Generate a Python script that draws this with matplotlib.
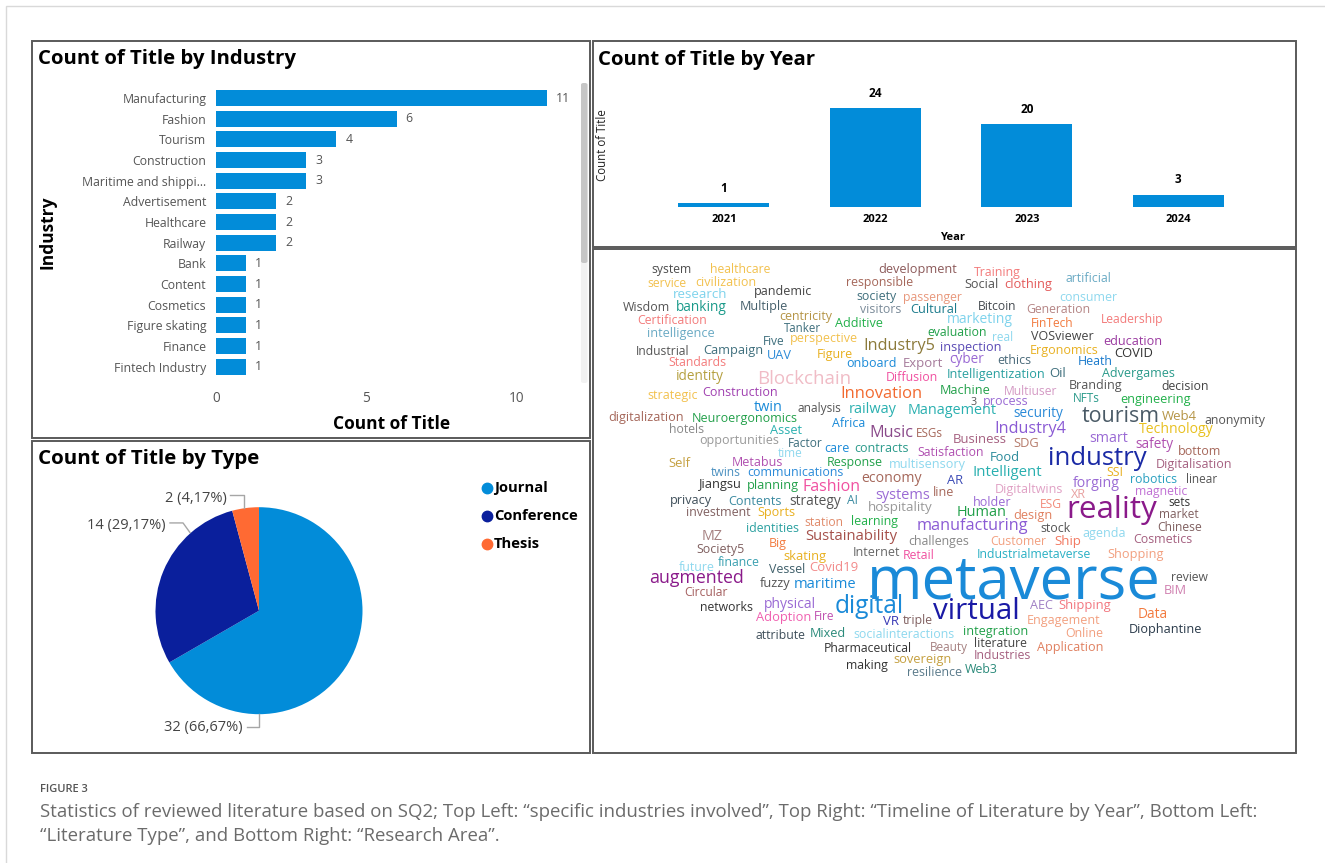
import numpy as np
import matplotlib
matplotlib.use("Agg")
import matplotlib.pyplot as plt
from matplotlib.patches import Rectangle, FancyBboxPatch
from matplotlib.lines import Line2D

plt.rcParams['font.family'] = ['Open Sans', 'DejaVu Sans']

W, H = 1325, 863
BLUE = '#028cd9'

# ---------------------------------------------------------
# data
# ---------------------------------------------------------
industries = ["Manufacturing", "Fashion", "Tourism", "Construction",
              "Maritime and shippi...", "Advertisement", "Healthcare", "Railway",
              "Bank", "Content", "Cosmetics", "Figure skating", "Finance",
              "Fintech Industry"]
industry_counts = [11, 6, 4, 3, 3, 2, 2, 2, 1, 1, 1, 1, 1, 1]

years = ["2021", "2022", "2023", "2024"]
year_counts = [1, 24, 20, 3]

types = ["Journal", "Conference", "Thesis"]
type_counts = [32, 14, 2]
type_colors = ['#028cd9', '#0a1f9c', '#ff6a33']

cloud_words = [
    "system", "healthcare", "development", "Training", "service", "civilization",
    "responsible", "Social", "clothing", "artificial", "research", "pandemic",
    "society", "passenger", "consumer", "Wisdom", "banking", "Multiple", "visitors",
    "Cultural", "Bitcoin", "Generation", "centricity", "Certification", "Additive",
    "marketing", "FinTech", "Leadership", "Tanker", "intelligence", "evaluation",
    "real", "VOSviewer", "education", "Five", "perspective", "Industry5",
    "inspection", "Ergonomics", "Industrial", "Campaign", "UAV", "Figure", "COVID",
    "cyber", "ethics", "Heath", "onboard", "Export", "Standards", "identity",
    "Blockchain", "Diffusion", "Intelligentization", "Oil", "Advergames",
    "Branding", "decision", "Machine", "Multiuser", "strategic", "Construction",
    "Innovation", "3", "process", "NFTs", "engineering", "twin", "analysis",
    "railway", "Management", "security", "tourism", "Web4", "anonymity",
    "digitalization", "Neuroergonomics", "Africa", "Music", "ESGs", "Industry4",
    "Technology", "hotels", "Asset", "opportunities", "Factor", "Business", "SDG",
    "smart", "safety", "time", "care", "contracts", "Satisfaction", "bottom",
    "industry", "Food", "Self", "Metabus", "Response", "multisensory",
    "Digitalisation", "twins", "communications", "Intelligent", "SSI", "economy",
    "Jiangsu", "planning", "AR", "robotics", "linear", "forging", "Fashion", "line",
    "Digitaltwins", "magnetic", "systems", "XR", "privacy", "Contents", "strategy",
    "AI", "holder", "ESG", "sets", "hospitality", "reality", "investment", "Sports",
    "Human", "design", "market", "station", "learning", "manufacturing",
    "identities", "stock", "Chinese", "agenda", "MZ", "Sustainability", "Cosmetics",
    "challenges", "Customer", "Ship", "Big", "Society5", "Internet",
    "Industrialmetaverse", "Shopping", "skating", "Retail", "finance", "future",
    "Vessel", "Covid19", "metaverse", "augmented", "review", "fuzzy", "maritime",
    "Circular", "BIM", "physical", "networks", "digital", "virtual", "AEC",
    "Shipping", "Data", "Adoption", "Fire", "VR", "triple", "Engagement",
    "Diophantine", "integration", "Online", "attribute", "Mixed",
    "socialinteractions", "literature", "Pharmaceutical", "Beauty", "Application",
    "Industries", "sovereign", "making", "resilience", "Web3",
]

# word cloud placement: left px, right px, centre y px, colour
cloud_layout = [
    (651, 691, 269, "#4d4d4d"), (710, 771, 269, "#f2c14e"), (878, 956, 269, "#8c5a5a"),
    (974, 1021, 272, "#f37b7b"), (647, 686, 283, "#f2c14e"), (695, 756, 282, "#f2c14e"),
    (846, 913, 282, "#a5675a"), (964, 998, 284, "#555555"), (1004, 1052, 284, "#e35a5a"),
    (1066, 1112, 278, "#6aaac4"), (673, 727, 294, "#7fd3ec"), (754, 812, 291, "#444444"),
    (856, 896, 296, "#3f6f7d"), (903, 962, 297, "#e8987c"), (1059, 1117, 297, "#8ed8ee"),
    (623, 670, 307, "#555555"), (676, 727, 307, "#1a9a8a"), (740, 788, 306, "#46606c"),
    (860, 901, 309, "#7b8b99"), (910, 957, 309, "#1b7b8c"), (978, 1017, 306, "#444a50"),
    (1026, 1090, 309, "#b58585"), (779, 832, 316, "#b59445"), (637, 707, 320, "#f37b7b"),
    (835, 883, 323, "#22b04a"), (947, 1013, 319, "#7fd3ec"), (1031, 1074, 323, "#f27a3e"),
    (1101, 1164, 319, "#f37b7b"), (784, 821, 328, "#3f6f7d"), (647, 714, 333, "#6aaac4"),
    (927, 987, 332, "#22a04a"), (992, 1013, 337, "#8ed8ee"), (1031, 1093, 336, "#444444"),
    (1103, 1162, 341, "#9a3aa0"), (763, 785, 341, "#3f6f7d"), (790, 857, 338, "#f2c14e"),
    (863, 935, 345, "#8c7a3a"), (940, 1001, 347, "#5a4ab5"), (1030, 1098, 350, "#e8b020"),
    (636, 690, 351, "#555555"), (703, 763, 350, "#3f6f7d"), (767, 792, 355, "#2a8ad8"),
    (817, 853, 354, "#e8b020"), (1114, 1153, 353, "#333333"), (949, 984, 359, "#9a6ad4"),
    (997, 1031, 360, "#4a6a7a"), (1078, 1113, 361, "#1a7acc"), (846, 896, 363, "#1a8ad8"),
    (903, 943, 363, "#a57a9a"), (668, 726, 362, "#f37b7b"), (676, 724, 376, "#b5a040"),
    (757, 851, 378, "#f0bcc6"), (886, 938, 377, "#f050a0"), (947, 1045, 374, "#2aa0a0"),
    (1049, 1066, 373, "#3f6f7d"), (1102, 1174, 373, "#2a9a8a"), (1069, 1122, 385, "#555555"),
    (1161, 1208, 386, "#444444"), (940, 990, 390, "#22a04a"), (1004, 1058, 391, "#d49ac4"),
    (647, 697, 395, "#f2c14e"), (702, 777, 392, "#a040b0"), (840, 922, 393, "#f26a30"),
    (970, 976, 402, "#555555"), (983, 1028, 401, "#9a6ad4"), (1073, 1100, 398, "#2a9a8a"),
    (1120, 1190, 399, "#22b04a"), (754, 783, 407, "#1a8ad8"), (797, 841, 408, "#555555"),
    (849, 897, 409, "#2ab0b0"), (908, 997, 410, "#2ab0b0"), (1013, 1063, 413, "#2a8ad8"),
    (1082, 1160, 415, "#4a5a66"), (1162, 1197, 416, "#b59445"), (1204, 1265, 420, "#555555"),
    (608, 683, 417, "#a5675a"), (692, 797, 418, "#22a04a"), (832, 865, 423, "#1a8ad8"),
    (869, 913, 432, "#8a4a8a"), (916, 943, 433, "#a5675a"), (994, 1066, 428, "#8a5ad4"),
    (1139, 1213, 429, "#e8c020"), (669, 704, 429, "#888888"), (770, 802, 430, "#2ab0b0"),
    (699, 778, 440, "#999999"), (788, 823, 443, "#3f6f7d"), (953, 1007, 439, "#a56080"),
    (1013, 1039, 443, "#b57a6a"), (1089, 1128, 438, "#9a6ad4"), (1135, 1173, 444, "#b050b0"),
    (778, 803, 453, "#8ed8ee"), (824, 849, 448, "#1a8ad8"), (854, 908, 448, "#2a9a8a"),
    (917, 983, 452, "#b050b0"), (1178, 1221, 451, "#a5675a"), (1048, 1147, 457, "#1a2aa5"),
    (990, 1020, 457, "#2a8a9a"), (668, 690, 463, "#c5a040"), (732, 783, 462, "#b050b0"),
    (827, 883, 462, "#22a04a"), (889, 965, 464, "#8ed8ee"), (1156, 1232, 464, "#a56080"),
    (711, 741, 472, "#4a90c0"), (747, 843, 472, "#2a8ad8"), (973, 1043, 471, "#2ab0b0"),
    (1106, 1123, 472, "#e8b020"), (861, 921, 478, "#a5675a"), (699, 742, 484, "#333333"),
    (747, 799, 485, "#22a04a"), (947, 963, 480, "#3a4ab5"), (1130, 1177, 479, "#2aa0c0"),
    (1186, 1217, 479, "#555555"), (1073, 1120, 483, "#9a6ad4"), (803, 861, 486, "#f050a0"),
    (933, 954, 492, "#a5675a"), (995, 1063, 489, "#e0a0c4"), (1135, 1188, 491, "#c070d4"),
    (875, 930, 494, "#9a6ad4"), (1071, 1086, 494, "#e8a0a0"), (670, 712, 500, "#3f4f5a"),
    (728, 781, 501, "#3a8aa0"), (789, 841, 501, "#555555"), (847, 858, 500, "#3a8aa0"),
    (973, 1011, 502, "#9a6ad4"), (1040, 1062, 504, "#f28a7a"), (1168, 1190, 502, "#333333"),
    (868, 933, 507, "#999999"), (1066, 1157, 508, "#8a1a8a"), (686, 751, 512, "#806060"),
    (757, 795, 512, "#e8b020"), (957, 1007, 512, "#22a04a"), (1013, 1052, 515, "#e08060"),
    (1159, 1198, 514, "#806060"), (804, 843, 522, "#e08a6a"), (851, 898, 521, "#22b04a"),
    (917, 1029, 525, "#8a5ad4"), (746, 799, 528, "#2aa0a0"), (1040, 1070, 528, "#555555"),
    (1157, 1202, 527, "#806060"), (1082, 1125, 533, "#8ed8ee"), (702, 723, 536, "#a58080"),
    (805, 898, 535, "#a5504a"), (1133, 1192, 539, "#a56080"), (908, 969, 541, "#888888"),
    (990, 1046, 541, "#f2a080"), (1054, 1081, 541, "#f27860"), (769, 787, 543, "#f27a3e"),
    (696, 744, 549, "#806060"), (853, 900, 552, "#666666"), (977, 1091, 554, "#2ab0c4"),
    (1107, 1163, 554, "#f2a080"), (783, 826, 556, "#e8b020"), (903, 935, 555, "#f050a0"),
    (718, 760, 562, "#3aa0b0"), (679, 715, 567, "#8ed8ee"), (769, 805, 569, "#3f5f6a"),
    (809, 858, 567, "#f28a8a"), (867, 1160, 580, "#1a8ad8"), (649, 744, 578, "#8a1a8a"),
    (1171, 1208, 577, "#555555"), (760, 791, 583, "#555555"), (794, 857, 583, "#1a8ad8"),
    (684, 728, 592, "#a56060"), (1164, 1187, 590, "#d080b0"), (764, 816, 604, "#9a6ad4"),
    (700, 753, 607, "#333333"), (835, 905, 605, "#1a8ad8"), (933, 1020, 610, "#1a1aa5"),
    (1030, 1053, 605, "#a080c4"), (1058, 1111, 605, "#f27880"), (1138, 1168, 614, "#f27a3e"),
    (756, 811, 617, "#f060b0"), (814, 835, 616, "#c050b0"), (883, 899, 621, "#3a3ab5"),
    (903, 933, 620, "#806060"), (1027, 1100, 620, "#f2a080"), (1129, 1202, 629, "#2a3a4a"),
    (963, 1028, 631, "#22a04a"), (1065, 1103, 633, "#f2a080"), (756, 806, 635, "#3f4f5a"),
    (810, 846, 633, "#2a8a7a"), (853, 954, 634, "#8ed8ee"), (974, 1027, 643, "#444444"),
    (824, 913, 648, "#333333"), (930, 968, 647, "#a58080"), (1037, 1103, 647, "#e08060"),
    (974, 1031, 655, "#a56080"), (893, 951, 659, "#c5a040"), (846, 888, 665, "#333333"),
    (907, 962, 672, "#5a7a8a"), (965, 998, 669, "#2a8a7a"),
]

caption_head = "FIGURE 3"
caption_lines = [
    "Statistics of reviewed literature based on SQ2; Top Left: \u201cspecific industries involved\u201d, "
    "Top Right: \u201cTimeline of Literature by Year\u201d, Bottom Left:",
    "\u201cLiterature Type\u201d, and Bottom Right: \u201cResearch Area\u201d.",
]

# ---------------------------------------------------------
# helpers (pixel coords, origin top-left)
# ---------------------------------------------------------
fig = plt.figure(figsize=(W / 100, H / 100), dpi=100, facecolor='white')
renderer = fig.canvas.get_renderer()


def fx(x):
    return x / W


def fy(y):
    return 1 - y / H


def px_axes(x0, y0, x1, y1):
    return fig.add_axes([fx(x0), fy(y1), (x1 - x0) / W, (y1 - y0) / H])


def fit_text(s, x0, x1, yc, color='black', weight='normal', rise=0.33):
    t = fig.text(fx(x0), fy(yc), s, fontsize=10, color=color,
                 fontweight=weight, ha='left', va='baseline')
    w = t.get_window_extent(renderer).width
    size = 10 * (x1 - x0) / w
    t.set_fontsize(size)
    t.set_y(fy(yc + rise * size * 100 / 72))
    return t


def frame(x0, y0, x1, y1, color='#5a5a5a', lw=1.4):
    fig.add_artist(Rectangle((fx(x0), fy(y1)), (x1 - x0) / W, (y1 - y0) / H,
                             transform=fig.transFigure, fill=False,
                             edgecolor=color, linewidth=lw))


# outer card and panel borders
frame(6, 6, 1340, 880, color='#d9d9d9', lw=1.0)
frame(32, 41, 590, 438)
frame(32, 441, 590, 753)
frame(593, 41, 1296, 247)
frame(593, 249, 1296, 753)

# ---------------------------------------------------------
# top left: count by industry
# ---------------------------------------------------------
fit_text("Count of Title by Industry", 38, 297, 57, weight='bold', rise=0.36)
ax1 = px_axes(216, 87.7, 577, 377)
ypos = np.arange(len(industries))
bars = ax1.barh(ypos, industry_counts, height=0.78, color=BLUE)
ax1.set_ylim(len(industries) - 0.5, -0.5)
ax1.set_xlim(0, 12)
ax1.set_xticks([0, 5, 10])
ax1.set_yticks(ypos, industries)
ax1.tick_params(axis='x', length=0, pad=10, labelsize=9.8, labelcolor='#555555')
ax1.tick_params(axis='y', length=0, pad=7, labelsize=8.8, labelcolor='#555555')
for sp in ax1.spines.values():
    sp.set_visible(False)
ax1.patch.set_alpha(0)
for rect, v in zip(bars, industry_counts):
    ax1.annotate(str(v), xy=(v, rect.get_y() + rect.get_height() / 2),
                 xytext=(6.5, 0), textcoords='offset points',
                 ha='left', va='center', fontsize=8.8, color='#555555')
fig.text(fx(392), fy(424), "Count of Title", fontsize=12.5, fontweight='bold',
         ha='center', va='center')
fig.text(fx(47), fy(232), "Industry", fontsize=12.5, fontweight='bold',
         ha='center', va='center', rotation=90)

# scrollbar
fig.add_artist(FancyBboxPatch((fx(581), fy(383)), 6.5 / W, 300 / H,
                              boxstyle="round,pad=0,rounding_size=0.002",
                              transform=fig.transFigure, facecolor='#f2f2f2',
                              edgecolor='none'))
fig.add_artist(FancyBboxPatch((fx(581), fy(263)), 6.5 / W, 180 / H,
                              boxstyle="round,pad=0,rounding_size=0.002",
                              transform=fig.transFigure, facecolor='#c6c6c6',
                              edgecolor='none'))

# ---------------------------------------------------------
# top right: count by year
# ---------------------------------------------------------
fit_text("Count of Title by Year", 598, 816, 58, weight='bold', rise=0.36)
ax2 = px_axes(633, 91.5, 1269, 207)
xpos = np.arange(len(years))
bars2 = ax2.bar(xpos, year_counts, width=0.6, color=BLUE)
ax2.set_xlim(-0.6, 3.6)
ax2.set_ylim(0, 28)
ax2.set_xticks(xpos, years)
ax2.set_yticks([])
ax2.tick_params(axis='x', length=0, pad=5, labelsize=8)
for lab in ax2.get_xticklabels():
    lab.set_fontweight('bold')
for sp in ax2.spines.values():
    sp.set_visible(False)
ax2.patch.set_alpha(0)
ax2.bar_label(bars2, padding=6, fontsize=8.5, fontweight='bold')
fig.text(fx(953), fy(238), "Year", fontsize=8, fontweight='bold',
         ha='center', va='center')
fig.text(fx(603), fy(145), "Count of Title", fontsize=8.3, ha='center',
         va='center', rotation=90, color='#222222')

# ---------------------------------------------------------
# bottom left: count by type
# ---------------------------------------------------------
fit_text("Count of Title by Type", 38, 260, 457, weight='bold', rise=0.36)
ax3 = px_axes(155.5, 507.2, 362.5, 714.2)
wedges, _ = ax3.pie(type_counts, colors=type_colors, startangle=90,
                    counterclock=False, radius=1,
                    wedgeprops=dict(linewidth=0))
for w_ in wedges:
    w_.set_clip_on(False)
ax3.set_xlim(-1, 1)
ax3.set_ylim(-1, 1)
ax3.axis('off')

total = sum(type_counts)
pie_labels = [f"{v} ({100 * v / total:.2f}%)".replace('.', ',') for v in type_counts]
# text anchor (right edge) and leader path, in pie units
label_paths = [
    ((-0.157, -1.133), [(-0.119, -1.121), (0.0, -1.121), (0.0, -1.0)]),
    ((-0.899, 0.828), [(-0.86, 0.848), (-0.734, 0.848), (-0.667, 0.755)]),
    ((-0.312, 1.086), [(-0.28, 1.118), (-0.145, 1.118), (-0.145, 0.995)]),
]
for text, (anchor, path) in zip(pie_labels, label_paths):
    ax3.text(anchor[0], anchor[1], text, ha='right', va='center', fontsize=10.5,
             color='#444444', clip_on=False)
    px_, py_ = zip(*path)
    ax3.plot(px_, py_, color='#a6a6a6', lw=1.0, clip_on=False)

for i, (name, col) in enumerate(zip(types, type_colors)):
    yy = 488.3 + i * 28
    fig.add_artist(Line2D([fx(486.7)], [fy(yy)], marker='o', markersize=7.5,
                          color=col, linestyle='none', transform=fig.transFigure))
    fig.text(fx(494), fy(yy), name, fontsize=10.6, fontweight='bold',
             ha='left', va='center')

# ---------------------------------------------------------
# bottom right: word cloud
# ---------------------------------------------------------
for word, (x0, x1, yc, col) in zip(cloud_words, cloud_layout):
    fit_text(word, x0, x1, yc, color=col, rise=0.31)

# ---------------------------------------------------------
# caption
# ---------------------------------------------------------
fig.text(fx(40), fy(789), caption_head, fontsize=8, color='#555555',
         fontweight='semibold', ha='left', va='center')
cap = fit_text(caption_lines[0], 40, 1262, 810, color='#6b6b6b', rise=0.36)
fig.text(fx(40), cap.get_position()[1] - 24 / H, caption_lines[1],
         fontsize=cap.get_fontsize(), color='#6b6b6b', ha='left', va='baseline')

fig.savefig("out.png", dpi=100, facecolor='white')
